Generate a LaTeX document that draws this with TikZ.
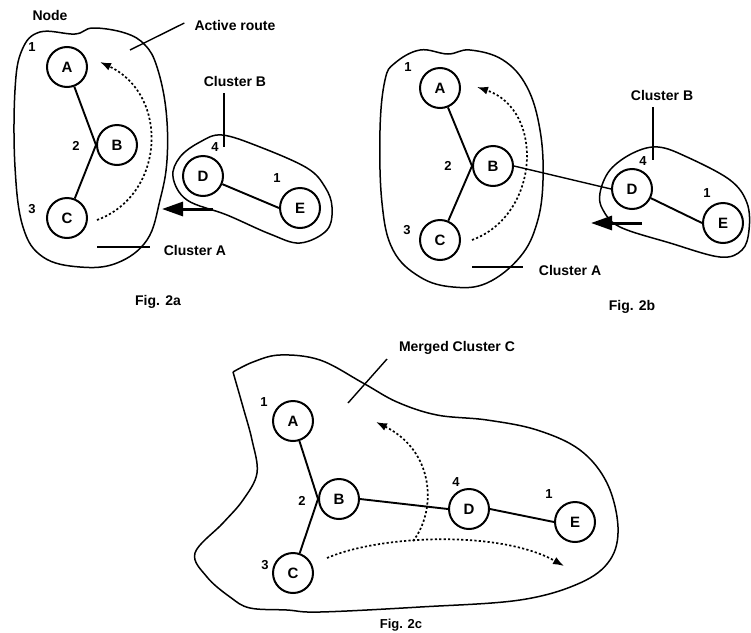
\documentclass[tikz,border=0pt]{standalone}
\usepackage{fontspec}
\setmainfont{Liberation Sans}
\usetikzlibrary{arrows.meta}
\begin{document}
\begin{tikzpicture}[x=1pt,y=-1pt,
  vnode/.style={circle,draw,line width=2pt,minimum size=40pt,inner sep=0pt,font=\fontsize{15}{15}\selectfont\bfseries},
  lbl/.style={font=\fontsize{14}{14}\selectfont\bfseries,inner sep=0pt},
  num/.style={font=\fontsize{13}{13}\selectfont\bfseries,inner sep=0pt},
  blob/.style={line width=1.5pt},
  edge/.style={line width=1.9pt},
  ptr/.style={line width=1.4pt},
  route/.style={line width=1.7pt,dash pattern=on 2.2pt off 2.2pt,-{Latex[length=11pt,width=8pt]}},
  move/.style={line width=3pt,-{Triangle[length=21pt,width=14pt]}}]
\useasboundingbox (0,0) rectangle (751,632);

% ---------------- Fig. 2a ----------------
\draw[blob] plot[smooth cycle,tension=0.65] coordinates {(75,34) (93,28) (125,33) (145,45) (157,67) (166,110) (167,160) (160,200) (147,240) (117,263) (80,267) (43,257) (23,227) (15,167) (15,90) (22,50) (40,32)};
\draw[blob] plot[smooth cycle,tension=0.6] coordinates {(222,135) (260,147) (307,168) (325,187) (332,207) (327,230) (300,243) (270,234) (227,215) (187,200) (173,177) (180,157) (200,142)};

\node[vnode] (a1) at (67,67) {A};
\node[vnode] (b1) at (117,145) {B};
\node[vnode] (c1) at (67,218) {C};
\node[vnode] (d1) at (203,176) {D};
\node[vnode] (e1) at (300,208) {E};
\draw[edge] (a1) -- (b1.west) -- (c1);
\draw[edge] (d1) -- (e1.west);

\node[num] (n1a) at (32,47) {1};
\node[num] (n2a) at (76,146) {2};
\node[num] (n3a) at (32,209) {3};
\node[num] (n4a) at (215,147) {4};
\node[num] (n5a) at (277,178) {1};

\coordinate (r1s) at (97,220);
\coordinate (r1e) at (100,62);
\draw[route] (r1s) .. controls (165,195) and (170,95) .. (r1e);

\coordinate (m1s) at (213,209);
\coordinate (m1e) at (162,209);
\draw[move] (m1s) -- (m1e);

\node[lbl] (tnode) at (50,15) {Node};
\node[lbl] (tact) at (235,25) {Active route};
\coordinate (pact) at (130,50);
\draw[ptr] (tact.west) ++(-10,-2) coordinate (pacts) -- (pact);
\node[lbl] (tcb1) at (235,81) {Cluster B};
\coordinate (pcb1s) at (224,93);
\coordinate (pcb1e) at (224,147);
\draw[ptr] (pcb1s) -- (pcb1e);
\node[lbl] (tca1) at (195,250) {Cluster A};
\coordinate (pca1s) at (97,247);
\coordinate (pca1e) at (150,247);
\draw[ptr] (pca1s) -- (pca1e);
\node[lbl] (fa) at (158,302) {Fig. 2a};

% ---------------- Fig. 2b ----------------
\draw[blob] plot[smooth cycle,tension=0.65] coordinates {(448,54) (470,50) (503,60) (527,87) (540,130) (543,180) (537,223) (520,257) (487,283) (453,287) (420,277) (393,250) (382,203) (380,130) (385,80) (395,63) (420,50)};
\draw[blob] plot[smooth cycle,tension=0.6] coordinates {(658,147) (687,157) (730,180) (747,203) (749,230) (742,250) (720,257) (670,243) (620,227) (603,210) (600,193) (610,170) (633,153)};

\node[vnode] (a2) at (440,88) {A};
\node[vnode] (b2) at (493,166) {B};
\node[vnode] (c2) at (440,240) {C};
\node[vnode] (d2) at (632,189) {D};
\node[vnode] (e2) at (723,223) {E};
\draw[edge] (a2) -- (b2.west) -- (c2);
\draw[line width=1.4pt] (b2.east) -- (d2.west);
\draw[edge] (d2) -- (e2.west);

\node[num] (n1b) at (408,67) {1};
\node[num] (n2b) at (448,166) {2};
\node[num] (n3b) at (407,230) {3};
\node[num] (n4b) at (643,161) {4};
\node[num] (n5b) at (707,193) {1};

\coordinate (r2s) at (472,240);
\coordinate (r2e) at (477,87);
\draw[route] (r2s) .. controls (540,215) and (545,110) .. (r2e);

\coordinate (m2s) at (642,223);
\coordinate (m2e) at (591,223);
\draw[move] (m2s) -- (m2e);

\node[lbl] (tcb2) at (662,95) {Cluster B};
\coordinate (pcb2s) at (653,107);
\coordinate (pcb2e) at (653,160);
\draw[ptr] (pcb2s) -- (pcb2e);
\node[lbl] (tca2) at (570,270) {Cluster A};
\coordinate (pca2s) at (472,267);
\coordinate (pca2e) at (523,267);
\draw[ptr] (pca2s) -- (pca2e);
\node[lbl] (fb) at (632,307) {Fig. 2b};

% ---------------- Fig. 2c ----------------
\draw[blob] plot[smooth,tension=0.6] coordinates {(233,372) (253,362) (280,355) (320,360) (363,383) (397,402) (437,415) (487,420) (537,430) (580,450) (607,483) (618,527) (610,560) (580,583) (520,600) (420,607) (320,612) (287,610) (250,608) (230,597) (207,577) (195,553) (223,523) (243,500) (257,473) (252,440) (243,407) (233,372)};

\node[vnode] (a3) at (293,421) {A};
\node[vnode] (b3) at (339,499) {B};
\node[vnode] (c3) at (293,573) {C};
\node[vnode] (d3) at (469,509) {D};
\node[vnode] (e3) at (575,522) {E};
\draw[edge] (a3) -- (b3.west) -- (c3);
\draw[edge] (b3.east) -- (d3.west);
\draw[edge] (d3.east) -- (e3.west);

\node[num] (n1c) at (264,402) {1};
\node[num] (n2c) at (302,501) {2};
\node[num] (n3c) at (265,565) {3};
\node[num] (n4c) at (456,482) {4};
\node[num] (n5c) at (549,494) {1};

\coordinate (r3s) at (413,541);
\coordinate (r3e) at (376,422);
\draw[route] (r3s) .. controls (436,512) and (436,452) .. (r3e);
\coordinate (r4s) at (327,558);
\coordinate (r4e) at (564,566);
\draw[route] (r4s) .. controls (380,535) and (500,530) .. (r4e);

\node[lbl] (tmc) at (457,348) {Merged Cluster C};
\coordinate (pmcs) at (387,359);
\coordinate (pmce) at (348,403);
\draw[ptr] (pmcs) -- (pmce);
\node[lbl,font=\fontsize{13}{13}\selectfont\bfseries] (fc) at (401,625) {Fig. 2c};
\end{tikzpicture}
\end{document}
